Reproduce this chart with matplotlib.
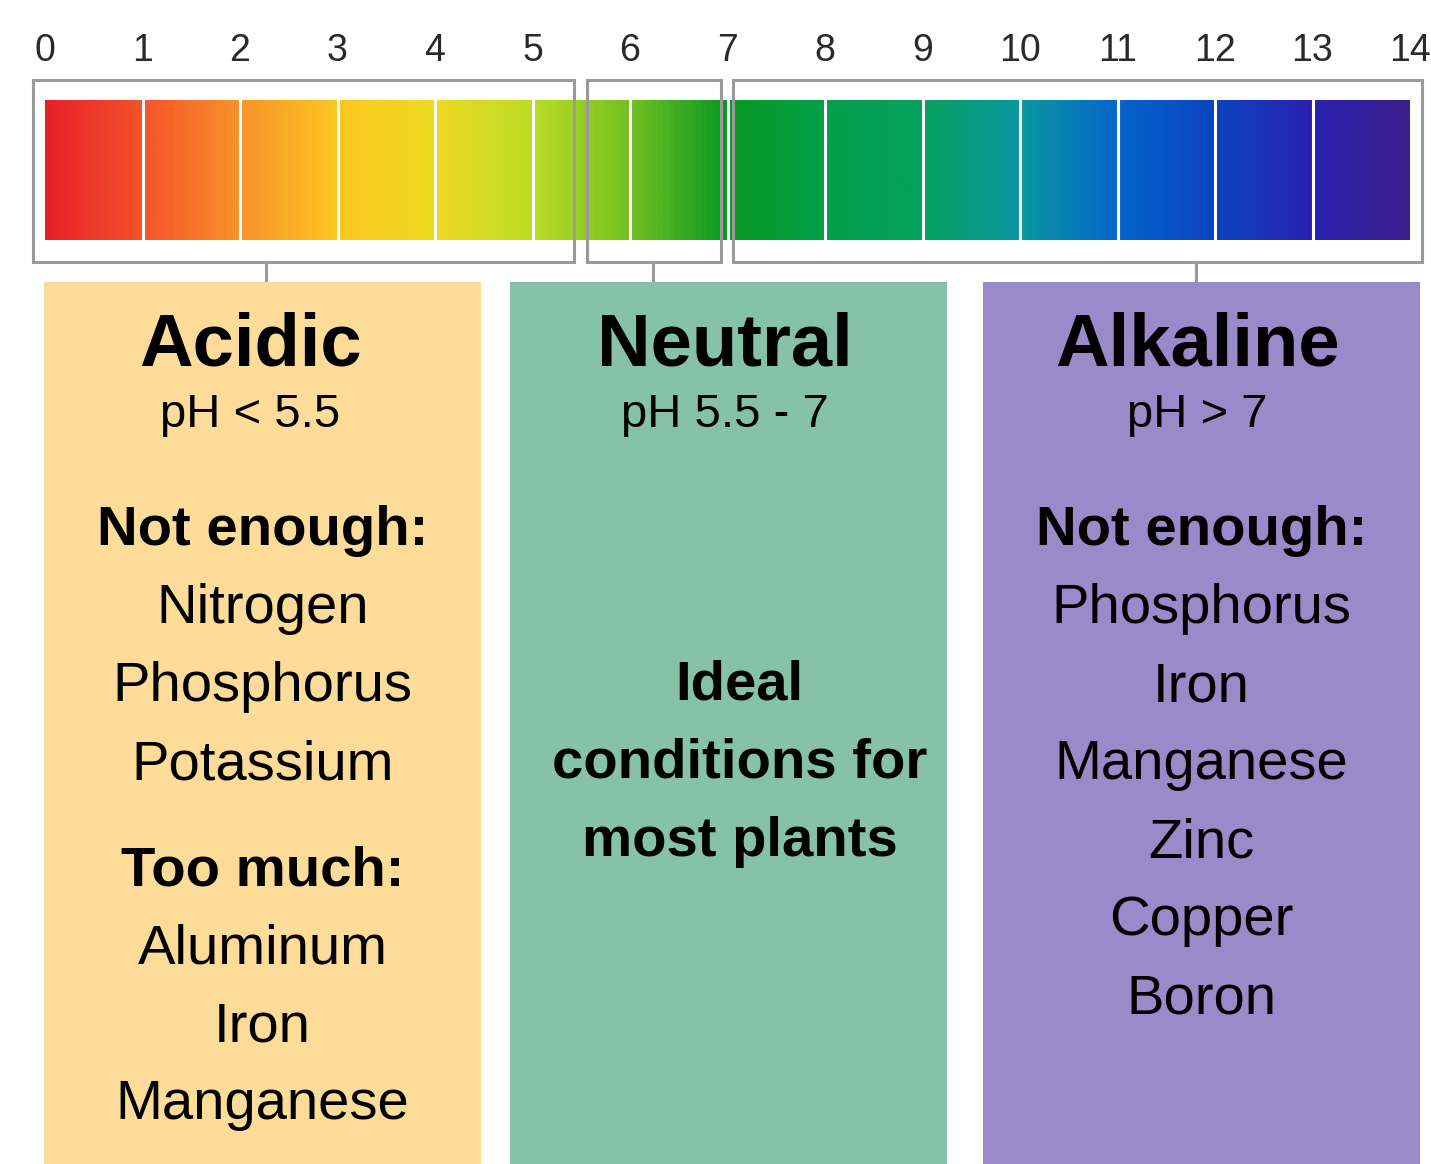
import numpy as np
import matplotlib
matplotlib.use("Agg")
import matplotlib.pyplot as plt
from matplotlib.colors import LinearSegmentedColormap
from matplotlib.patches import Rectangle

plt.rcParams['font.family'] = ['Liberation Sans', 'DejaVu Sans']

# pH scale
ph_ticks = list(range(0, 15))
# colour of the strip at each whole pH value
ph_colors = ['#e8202a', '#f4552a', '#f8952a', '#fcc820', '#eeda22', '#bcdc26',
             '#72c020', '#089820', '#02a04a', '#04a05c', '#0a98a0', '#0566cc',
             '#0a44c0', '#2a22b0', '#3c1e8c']

# zones
zones = ['Acidic', 'Neutral', 'Alkaline']
zone_ranges = [(0, 5.5), (5.5, 7), (7, 14)]
zone_subtitles = ['pH < 5.5', 'pH 5.5 - 7', 'pH > 7']
zone_lines = [
    ['Not enough:', 'Nitrogen', 'Phosphorus', 'Potassium',
     'Too much:', 'Aluminum', 'Iron', 'Manganese'],
    ['Ideal', 'conditions for', 'most plants'],
    ['Not enough:', 'Phosphorus', 'Iron', 'Manganese', 'Zinc', 'Copper', 'Boron'],
]
zone_fill = ['#fcdc98', '#86c1aa', '#998aca']

# layout (pixels)
W, H = 1431, 1164
panel_left = [44, 510, 983]
panel_w = 437
panel_top = 282
connector_ph = [2.27, 6.24, 11.8]
title_dx = [-12, -4, -4]
body_dx = [0, 11, 0]
body_start = [545, 700, 545]
line_step = 78

fig = plt.figure(figsize=(W / 100, H / 100), dpi=100)

# full-figure axes in pixel units for the panels
ax = fig.add_axes([0, 0, 1, 1])
ax.set_xlim(0, W)
ax.set_ylim(H, 0)
ax.axis('off')

# pH strip axes
bar_l, bar_r, bar_t, bar_b = 45, 1410, 100, 240
axs = fig.add_axes([bar_l / W, 1 - bar_b / H, (bar_r - bar_l) / W, (bar_b - bar_t) / H])
cmap = LinearSegmentedColormap.from_list('ph', list(zip(np.linspace(0, 1, len(ph_colors)), ph_colors)))
grad = np.linspace(0, 1, 1400).reshape(1, -1)
axs.imshow(grad, cmap=cmap, aspect='auto', extent=(0, 14, 0, 1))
axs.set_xlim(0, 14)
axs.set_ylim(0, 1)
for v in ph_ticks[1:-1]:
    axs.axvline(v, color='white', lw=2.2)
for s in axs.spines.values():
    s.set_visible(False)
axs.xaxis.tick_top()
axs.set_xticks(ph_ticks)
axs.set_xticklabels([str(t) for t in ph_ticks])
axs.tick_params(axis='x', length=0, pad=22, labelsize=27, colors='#2a2a2a')
axs.set_yticks([])

# brackets around each zone
unit = bar_b - bar_t
y_top = (bar_b - 80) / unit
y_bot = (bar_b - 262) / unit
y_conn = (bar_b - 280) / unit
for (lo, hi), cx in zip(zone_ranges, connector_ph):
    x0 = lo - 0.12 if lo == 0 else lo + 0.06
    x1 = hi + 0.12 if hi == 14 else hi - 0.07
    axs.plot([x0, x1, x1, x0, x0], [y_top, y_top, y_bot, y_bot, y_top],
             color='#9a9a9a', lw=2.2, clip_on=False, solid_joinstyle='miter')
    axs.plot([cx, cx], [y_bot, y_conn], color='#9a9a9a', lw=2.2, clip_on=False)

# panels with text
for i, name in enumerate(zones):
    x = panel_left[i]
    ax.add_patch(Rectangle((x, panel_top), panel_w, H - panel_top,
                           facecolor=zone_fill[i], edgecolor='none'))
    cx = x + panel_w / 2
    ax.text(cx + title_dx[i], 365, name, ha='center', va='baseline',
            fontsize=53.5, fontweight='bold')
    ax.text(cx + title_dx[i], 427, zone_subtitles[i], ha='center', va='baseline',
            fontsize=34)
    y = body_start[i]
    for j, line in enumerate(zone_lines[i]):
        header = line.endswith(':')
        if header and j > 0:
            y += 28
        bold = header or name == 'Neutral'
        ax.text(cx + body_dx[i], y, line, ha='center', va='baseline',
                fontsize=40.5,
                fontweight='bold' if bold else 'normal')
        y += line_step

fig.savefig('out.png', dpi=100)
